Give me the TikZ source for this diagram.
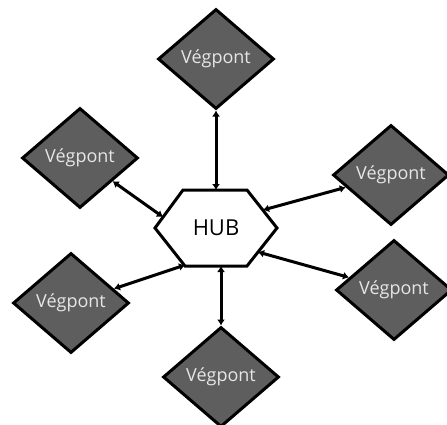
\documentclass[tikz,border=0pt]{standalone}
\usepackage{fontspec}
\setmainfont{Open Sans}
\usetikzlibrary{shapes.geometric,arrows.meta}
\definecolor{dfill}{HTML}{5E5E5E}
\definecolor{dtext}{HTML}{E6E6E6}
\tikzset{
  endpt/.style={shape=diamond, draw=black, line width=3pt, fill=dfill,
    minimum width=116pt, minimum height=100pt, inner sep=0pt,
    text=dtext, font=\fontsize{18}{20}\selectfont},
  link/.style={line width=3pt, {Latex[length=6pt,width=8pt]}-{Latex[length=6pt,width=8pt]}},
  hubline/.style={line width=3pt, line join=miter, fill=white}
}
\begin{document}
\begin{tikzpicture}[x=1pt,y=-1pt]
\useasboundingbox (0,0) rectangle (447,424);
% hub hexagon
\coordinate (h1) at (183,190);
\coordinate (h2) at (247,190);
\coordinate (h3) at (277,228);
\coordinate (h4) at (247,266);
\coordinate (h5) at (185,266);
\coordinate (h6) at (155,228);
\draw[hubline] (h1) -- (h2) -- (h3) -- (h4) -- (h5) -- (h6) -- cycle;
\node[font=\fontsize{22}{24}\selectfont] (hub) at (216,228) {HUB};
% attachment points on hub
\coordinate (htop) at (216,190);
\coordinate (hul) at (163,217);
\coordinate (hur) at (263,210);
\coordinate (hlr) at (258,252);
\coordinate (hll) at (185,265);
\coordinate (hbot) at (221,266);
% end points
\node[endpt] (dtop) at (216,59) {Végpont};
\node[endpt] (dul) at (80,158) {Végpont};
\node[endpt] (dur) at (391,175) {Végpont};
\node[endpt] (dlr) at (394,290) {Végpont};
\node[endpt] (dll) at (71,303) {Végpont};
\node[endpt] (dbot) at (221,377) {Végpont};
% links
\draw[link] (dtop.south) -- (htop);
\draw[link] (dul) -- (hul);
\draw[link] (dur) -- (hur);
\draw[link] (dlr) -- (hlr);
\draw[link] (dll) -- (hll);
\draw[link] (dbot.north) -- (hbot);
\end{tikzpicture}
\end{document}
